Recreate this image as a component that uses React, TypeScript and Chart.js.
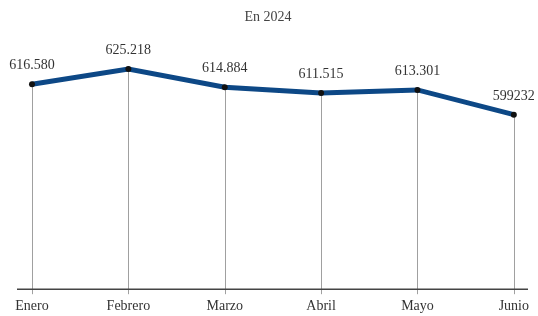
import React, { useEffect, useRef } from "react";
import { Chart, registerables } from "chart.js";

Chart.register(...registerables);

const months = ["Enero", "Febrero", "Marzo", "Abril", "Mayo", "Junio"];
const values = [616580, 625218, 614884, 611515, 613301, 599232];
const valueLabels = ["616.580", "625.218", "614.884", "611.515", "613.301", "599232"];
const subtitle = "En 2024";

const FONT = "'Liberation Serif', 'DejaVu Serif', serif";

const decorPlugin = {
  id: "decor",
  beforeDatasetsDraw(chart: any) {
    const { ctx, chartArea } = chart;
    const meta = chart.getDatasetMeta(0);
    const bottom = chartArea.bottom;
    ctx.save();
    ctx.strokeStyle = "#a0a0a0";
    ctx.lineWidth = 1;
    meta.data.forEach((pt: any) => {
      const x = Math.round(pt.x) + 0.5;
      ctx.beginPath();
      ctx.moveTo(x, pt.y);
      ctx.lineTo(x, bottom + 5);
      ctx.stroke();
    });
    ctx.strokeStyle = "#444";
    ctx.lineWidth = 1.5;
    ctx.beginPath();
    ctx.moveTo(17, bottom);
    ctx.lineTo(528, bottom);
    ctx.stroke();
    ctx.restore();
  },
  afterDatasetsDraw(chart: any) {
    const { ctx } = chart;
    const meta = chart.getDatasetMeta(0);
    ctx.save();
    ctx.fillStyle = "#333";
    ctx.font = `14px ${FONT}`;
    ctx.textAlign = "center";
    ctx.textBaseline = "alphabetic";
    meta.data.forEach((pt: any, i: number) => {
      ctx.fillText(valueLabels[i], pt.x, pt.y - 15);
    });
    ctx.fillStyle = "#444";
    ctx.font = `14px ${FONT}`;
    ctx.fillText(subtitle, 268, 21);
    ctx.restore();
  },
};

export default function App() {
  const ref = useRef<HTMLCanvasElement>(null);
  useEffect(() => {
    document.body.style.margin = "0";
    const chart = new Chart(ref.current!, {
      type: "line",
      data: {
        labels: months,
        datasets: [
          {
            data: values,
            borderColor: "#0d4886",
            borderWidth: 5,
            pointRadius: 3,
            pointBackgroundColor: "#111",
            pointBorderWidth: 0,
            tension: 0,
          },
        ],
      },
      options: {
        animation: false,
        responsive: false,
        maintainAspectRatio: false,
        layout: { padding: { left: 32, right: 24, top: 40, bottom: -8 } },
        plugins: { legend: { display: false }, tooltip: { enabled: false } },
        scales: {
          x: {
            offset: false,
            grid: { display: false, drawTicks: false },
            border: { display: false },
            ticks: { color: "#333", font: { family: FONT, size: 14 }, padding: 9, maxRotation: 0, autoSkip: false },
          },
          y: { display: false, min: 500000, max: 641700 },
        },
      },
      plugins: [decorPlugin],
    });
    return () => chart.destroy();
  }, []);
  return <canvas ref={ref} width={538} height={316} style={{ display: "block" }} />;
}
